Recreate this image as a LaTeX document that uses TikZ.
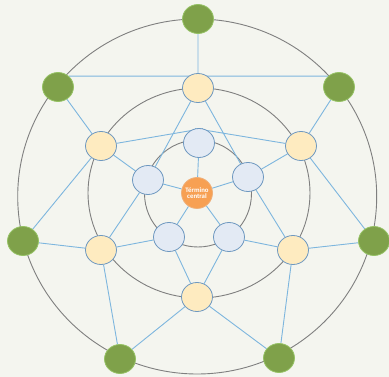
\documentclass[tikz,border=0pt]{standalone}
\usepackage{fontspec}
\setmainfont{Carlito}
\usetikzlibrary{shapes.geometric}
\pgfdeclarelayer{back}
\pgfdeclarelayer{links}
\pgfsetlayers{back,links,main}
\definecolor{bgc}{HTML}{F4F5EF}
\definecolor{ringc}{HTML}{7F7F7F}
\definecolor{edgec}{HTML}{7DB6DE}
\definecolor{greenf}{HTML}{7FA14A}
\definecolor{greenb}{HTML}{95C264}
\definecolor{yellowf}{HTML}{FEEBC0}
\definecolor{nodeb}{HTML}{6E98C0}
\definecolor{bluef}{HTML}{E3EAF4}
\definecolor{orangef}{HTML}{F7A053}
\definecolor{orangeb}{HTML}{EFB07A}
\tikzset{
  ring/.style={draw=ringc, line width=0.9pt},
  link/.style={draw=edgec, line width=0.9pt},
  gnode/.style={ellipse, fill=greenf, draw=greenb, line width=0.8pt, minimum width=31pt, minimum height=29pt, inner sep=0pt},
  ynode/.style={ellipse, fill=yellowf, draw=nodeb, line width=0.8pt, minimum width=31pt, minimum height=29pt, inner sep=0pt},
  bnode/.style={ellipse, fill=bluef, draw=nodeb, line width=0.8pt, minimum width=31pt, minimum height=29pt, inner sep=0pt},
  cnode/.style={circle, fill=orangef, draw=orangeb, line width=0.8pt, minimum size=31pt, inner sep=0pt, text=white, font=\fontsize{6.8}{7.5}\selectfont\bfseries, align=center}
}
\begin{document}
\begin{tikzpicture}[x=1pt, y=-1pt]
\begin{pgfonlayer}{back}
\fill[bgc] (0,0) rectangle (389,377);
\draw[ring] (197.2,196.5) ellipse [x radius=179.5, y radius=177.5];
\draw[ring] (199,193) ellipse [x radius=111, y radius=105];
\draw[ring] (198,193.5) circle [radius=53.5];
\end{pgfonlayer}
\useasboundingbox (0,0) rectangle (389,377);
% nodes
\node[gnode] (gT) at (198,19) {};
\node[gnode] (gUL) at (58,87) {};
\node[gnode] (gUR) at (339,87) {};
\node[gnode] (gL) at (23,241) {};
\node[gnode] (gR) at (374,241) {};
\node[gnode] (gBL) at (120,359) {};
\node[gnode] (gBR) at (279,358) {};
\node[ynode] (yT) at (198,88) {};
\node[ynode] (yUL) at (101,146) {};
\node[ynode] (yUR) at (301,146) {};
\node[ynode] (yLL) at (101,250) {};
\node[ynode] (yLR) at (293,250) {};
\node[ynode] (yB) at (197,297) {};
\node[bnode] (bT) at (199,143) {};
\node[bnode] (bUL) at (148,180) {};
\node[bnode] (bUR) at (248,177) {};
\node[bnode] (bLL) at (169,237) {};
\node[bnode] (bLR) at (229,237) {};
\node[cnode] (c) at (197,193) {Término\\[-2pt]central};
% links
\begin{pgfonlayer}{links}
\path[link]
  (gT) -- (yT)
  (gUL.45) -- (gUR.135)
  (gUL) -- (yUL)
  (gUR) -- (yUR)
  (gL) -- (yUL)
  (gR) -- (yUR)
  (gL) -- (yLL)
  (gR) -- (yLR)
  (gBL) -- (yLL)
  (gBR) -- (yLR)
  (gBL) -- (yB)
  (gBR) -- (yB)
  (yT) -- (bUL)
  (yT) -- (bUR)
  (yUL) -- (bT.75)
  (yUR) -- (bT.105)
  (yUL) -- (bUL)
  (yUR) -- (bUR)
  (yLL) -- (bUL)
  (yLR) -- (bUR)
  (yLL) -- (bLL)
  (yLR) -- (bLR)
  (yB) -- (bLL)
  (yB) -- (bLR)
  (c) -- (bT)
  (c) -- (bUL)
  (c) -- (bUR)
  (c) -- (bLL)
  (c) -- (bLR);
\end{pgfonlayer}
\end{tikzpicture}
\end{document}
